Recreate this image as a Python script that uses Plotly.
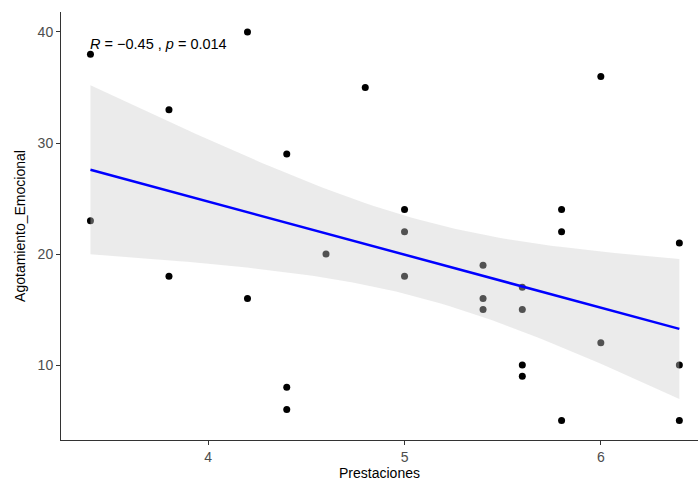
import numpy as np
import plotly.graph_objects as go

prestaciones = [3.4, 3.4, 3.8, 3.8, 4.2, 4.2, 4.4, 4.4, 4.4, 4.6, 4.8,
                5.0, 5.0, 5.0, 5.4, 5.4, 5.4, 5.6, 5.6, 5.6, 5.6,
                5.8, 5.8, 5.8, 6.0, 6.0, 6.4, 6.4, 6.4]
agotamiento = [38, 23, 33, 18, 40, 16, 29, 8, 6, 20, 35,
               24, 22, 18, 19, 16, 15, 17, 15, 10, 9,
               24, 22, 5, 36, 12, 21, 10, 5]
x_ticks = [4, 5, 6]
y_ticks = [10, 20, 30, 40]
annot_text = "<i>R</i> = \u22120.45 , <i>p</i> = 0.014"

x = np.array(prestaciones, dtype=float)
y = np.array(agotamiento, dtype=float)
n = len(x)
b1, b0 = np.polyfit(x, y, 1)
resid = y - (b0 + b1 * x)
s = np.sqrt(np.sum(resid ** 2) / (n - 2))
xm = x.mean()
sxx = np.sum((x - xm) ** 2)
tq = 2.0518  # t(0.975, df=27)
xg = np.linspace(x.min(), x.max(), 80)
yg = b0 + b1 * xg
se = s * np.sqrt(1 / n + (xg - xm) ** 2 / sxx)
lo = yg - tq * se
hi = yg + tq * se

fig = go.Figure()
fig.add_trace(go.Scatter(x=x, y=y, mode="markers",
                         marker=dict(color="black", size=7),
                         showlegend=False, hoverinfo="skip"))
fig.add_trace(go.Scatter(x=np.concatenate([xg, xg[::-1]]),
                         y=np.concatenate([hi, lo[::-1]]),
                         fill="toself", fillcolor="rgba(205,205,205,0.4)",
                         line=dict(width=0), mode="lines",
                         showlegend=False, hoverinfo="skip"))
fig.add_trace(go.Scatter(x=xg, y=yg, mode="lines",
                         line=dict(color="#0000FF", width=2.5),
                         showlegend=False, hoverinfo="skip"))

fig.add_annotation(x=3.4, y=40.0, xref="x", yref="y", text=annot_text,
                   showarrow=False, xanchor="left", yanchor="middle",
                   xshift=-2, yshift=-12,
                   font=dict(size=14.5, color="black"))

axis_common = dict(showline=True, linecolor="#333333", linewidth=1,
                   ticks="outside", ticklen=4, tickcolor="#333333",
                   showgrid=False, zeroline=False,
                   tickfont=dict(size=14, color="#4D4D4D"),
                   title_font=dict(size=14, color="black"))

fig.update_layout(
    width=698, height=481,
    margin=dict(l=61, r=0, t=12, b=41),
    paper_bgcolor="white", plot_bgcolor="white",
    font=dict(family="Liberation Sans, Arial, sans-serif"),
    xaxis=dict(range=[3.25, 6.495], tickvals=x_ticks,
               title=dict(text="Prestaciones", standoff=4), **axis_common),
    yaxis=dict(range=[3.25, 41.8], tickvals=y_ticks,
               title=dict(text="Agotamiento_Emocional", standoff=8), **axis_common),
)

fig.write_html("out.html")
